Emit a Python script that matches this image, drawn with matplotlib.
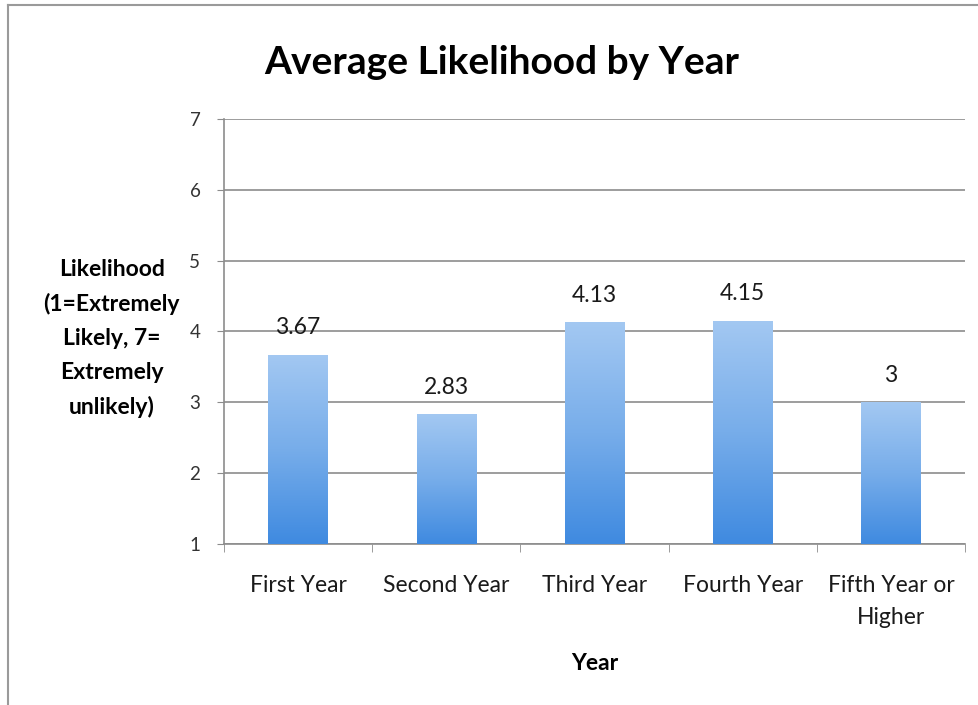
import numpy as np
import matplotlib.pyplot as plt
from matplotlib.colors import LinearSegmentedColormap
from matplotlib.patches import Rectangle

categories = ["First Year", "Second Year", "Third Year", "Fourth Year", "Fifth Year or\nHigher"]
values = [3.67, 2.83, 4.13, 4.15, 3]
value_labels = ["3.67", "2.83", "4.13", "4.15", "3"]
y_ticks = [1, 2, 3, 4, 5, 6, 7]

plt.rcParams['font.family'] = ['Lato', 'DejaVu Sans']

fig = plt.figure(figsize=(9.79, 7.05), dpi=100)
ax = fig.add_axes([0.2288, 0.2284, 0.7569, 0.6028])

x = np.arange(len(categories))
bar_w = 0.4
bars = ax.bar(x, [v - 1 for v in values], bottom=1, width=bar_w, color='none', edgecolor='none', zorder=3)

# vertical gradient fill, lighter at the top
cmap = LinearSegmentedColormap.from_list("barfill", ["#3f8ae0", "#77adea", "#a3c8f2"])
grad = np.linspace(0, 1, 256).reshape(-1, 1)
for b in bars:
    x0, y0 = b.get_x(), b.get_y()
    w, h = b.get_width(), b.get_height()
    im = ax.imshow(grad, cmap=cmap, origin='lower', aspect='auto',
                   extent=[x0, x0 + w, y0, y0 + h], zorder=3)
    clip = Rectangle((x0, y0), w, h, transform=ax.transData, facecolor='none', edgecolor='none')
    ax.add_patch(clip)
    im.set_clip_path(clip)

for xi, v, lab in zip(x, values, value_labels):
    ax.annotate(lab, (xi, v), xytext=(0, 12), textcoords='offset points',
                ha='center', va='bottom', fontsize=16.5, color='#1a1a1a')

ax.set_xlim(-0.5, len(categories) - 0.5)
ax.set_ylim(1, 7)
ax.set_yticks(y_ticks)
ax.set_yticklabels([str(t) for t in y_ticks], fontsize=13.5, color='#333333')
ax.yaxis.grid(True, color='#8c8c8c', linewidth=1.2, zorder=0)
ax.set_axisbelow(True)

ax.set_xticks(x)
ax.set_xticklabels(categories, fontsize=16.5, color='#1a1a1a', linespacing=1.65)
ax.tick_params(axis='x', length=0, pad=22)
ax.set_xticks(np.arange(-0.5, len(categories) + 0.5, 1), minor=True)
ax.tick_params(axis='x', which='minor', length=6, color='#8c8c8c', direction='out')
ax.tick_params(axis='y', length=5, color='#8c8c8c', pad=12)

for s in ['top', 'right']:
    ax.spines[s].set_visible(False)
for s in ['left', 'bottom']:
    ax.spines[s].set_color('#8c8c8c')
    ax.spines[s].set_linewidth(1.2)

ax.set_xlabel("Year", fontsize=16.5, fontweight='bold', labelpad=18)
fig.text(0.114, 0.52, "Likelihood\n(1=Extremely\nLikely, 7=\nExtremely\nunlikely)",
         ha='center', va='center', fontsize=16.5, fontweight='bold', linespacing=1.75)

fig.text(0.512, 0.912, "Average Likelihood by Year", ha='center', va='center',
         fontsize=28, fontweight='bold')

# chart frame along the top and left edges
fig.add_artist(plt.Line2D([0.0082, 0.0082], [0, 0.993], transform=fig.transFigure,
                          color='#9a9a9a', linewidth=1.5))
fig.add_artist(plt.Line2D([0.0082, 1], [0.993, 0.993], transform=fig.transFigure,
                          color='#9a9a9a', linewidth=1.5))

fig.savefig("out.png", dpi=100)
